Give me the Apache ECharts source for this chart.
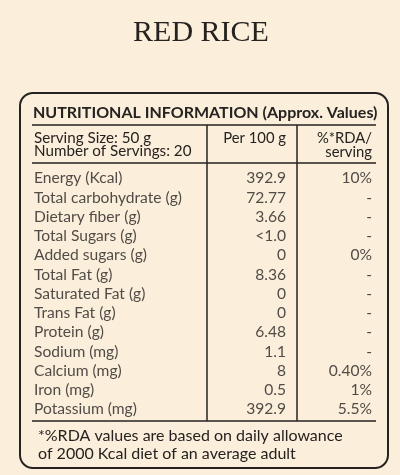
<!DOCTYPE html>
<html><head><meta charset="utf-8">
<script src="https://cdn.jsdelivr.net/npm/echarts@6/dist/echarts.min.js"></script>
<style>html,body{margin:0;padding:0;background:#fbefdc}#c{width:400px;height:475px}</style>
</head><body><div id="c"></div>
<script>
var title = 'RED RICE';
var heading = 'NUTRITIONAL INFORMATION (Approx. Values)';
var headerLeft = ['Serving Size: 50 g', 'Number of Servings: 20'];
var headerMid = ['Per 100 g'];
var headerRight = ['%*RDA/', 'serving'];
var nutrients = ['Energy (Kcal)', 'Total carbohydrate (g)', 'Dietary fiber (g)', 'Total Sugars (g)', 'Added sugars (g)', 'Total Fat (g)', 'Saturated Fat (g)', 'Trans Fat (g)', 'Protein (g)', 'Sodium (mg)', 'Calcium (mg)', 'Iron (mg)', 'Potassium (mg)'];
var per100 = ['392.9', '72.77', '3.66', '<1.0', '0', '8.36', '0', '0', '6.48', '1.1', '8', '0.5', '392.9'];
var rda = ['10%', '-', '-', '-', '0%', '-', '-', '-', '-', '-', '0.40%', '1%', '5.5%'];
var footnote = ['*%RDA values are based on daily allowance', 'of 2000 Kcal diet of an average adult'];

var FONT = 'Lato';
var INK = '#262220';
var colX = [34, 286, 372];
var chart = echarts.init(document.getElementById('c'));

function colSeries(name, vals, x, align) {
  return {
    type: 'scatter', name: name, symbolSize: 0, silent: true,
    data: vals.map(function (v, i) { return [x, i, v]; }),
    label: {
      show: true, position: 'inside', align: align, verticalAlign: 'middle',
      color: INK, fontFamily: FONT, fontSize: 15.6,
      formatter: function (p) { return p.data[2]; }
    }
  };
}
function txt(x, y, s, opt) {
  return { type: 'text', x: x, y: y, silent: true,
    style: Object.assign({ text: s, fill: INK, font: '14px ' + FONT, textAlign: 'left', textVerticalAlign: 'middle' }, opt || {}) };
}
function line(x1, y1, x2, y2) {
  return { type: 'line', silent: true, shape: { x1: x1, y1: y1, x2: x2, y2: y2 }, style: { stroke: INK, lineWidth: 1.5 } };
}

chart.setOption({
  backgroundColor: '#fbefdc',
  animation: false,
  grid: { left: 0, right: 0, top: 168.7, bottom: 56.1 },
  xAxis: { type: 'value', min: 0, max: 400, show: false },
  yAxis: { type: 'category', inverse: true, data: nutrients, show: false },
  series: [
    colSeries('nutrient', nutrients, colX[0], 'left'),
    colSeries('per100', per100, colX[1], 'right'),
    colSeries('rda', rda, colX[2], 'right')
  ],
  graphic: [
    { type: 'rect', silent: true, shape: { x: 20, y: 93, width: 368, height: 375, r: 13 }, style: { fill: 'transparent', stroke: INK, lineWidth: 2 } },
    txt(201, 33, title, { font: '30px "Liberation Serif"', textAlign: 'center' }),
    txt(33, 113, heading, { font: 'bold 16px ' + FONT }),
    line(32, 125, 376, 125),
    line(32, 163, 376, 163),
    line(32, 421, 376, 421),
    line(207, 125, 207, 421),
    line(297, 125, 297, 421),
    txt(34, 138, headerLeft[0], { font: '15.2px ' + FONT }),
    txt(34, 151, headerLeft[1], { font: '15.2px ' + FONT }),
    txt(286, 138, headerMid[0], { font: '14.8px ' + FONT, textAlign: 'right' }),
    txt(372, 138, headerRight[0], { font: '14.8px ' + FONT, textAlign: 'right' }),
    txt(372, 152, headerRight[1], { font: '14.8px ' + FONT, textAlign: 'right' }),
    txt(38, 436, footnote[0], { font: '16px ' + FONT }),
    txt(38, 454, footnote[1], { font: '16px ' + FONT })
  ]
});
</script></body></html>
